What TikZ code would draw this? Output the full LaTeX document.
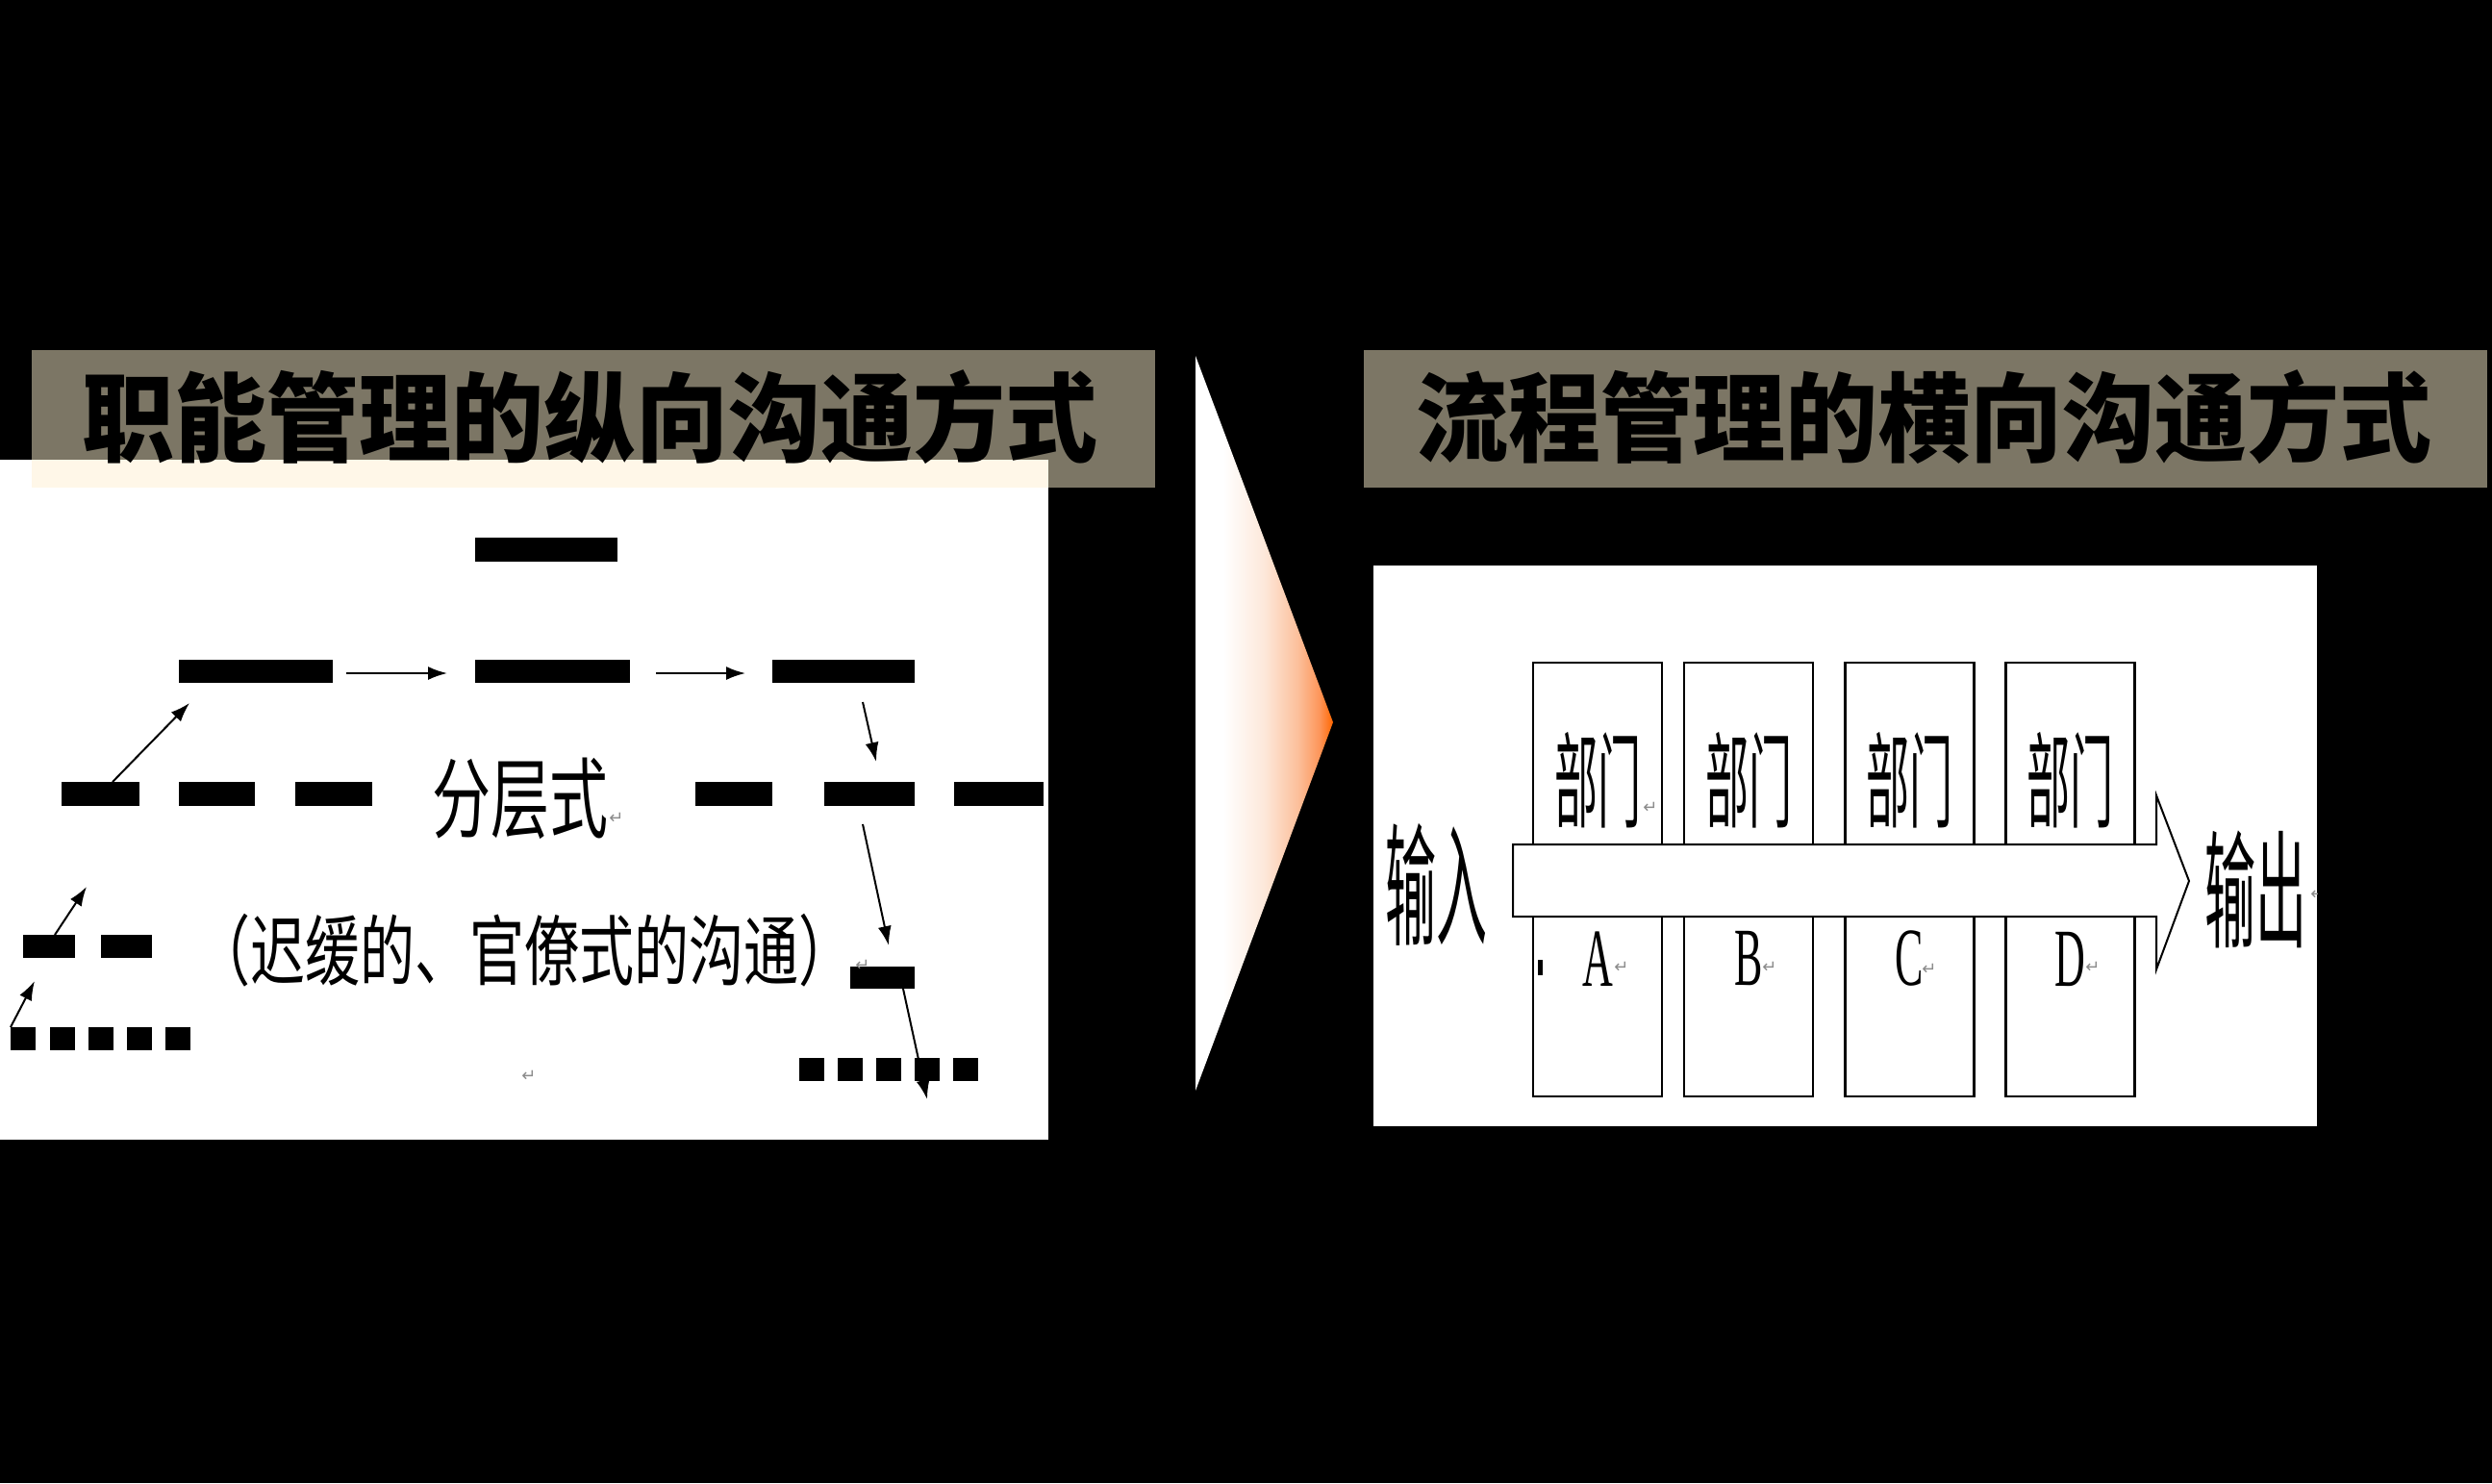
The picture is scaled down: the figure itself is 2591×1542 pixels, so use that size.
\documentclass[tikz,border=0pt]{standalone}
\usepackage{fontspec}
\usepackage{graphicx}
\usetikzlibrary{arrows.meta}
\newfontfamily\cjk{Noto Sans CJK SC}
\newfontfamily\lserif{Liberation Serif}
\newfontfamily\djv{DejaVu Sans}
\definecolor{titlegray}{RGB}{124,118,101}
\definecolor{cream}{RGB}{255,247,232}
\definecolor{shA}{RGB}{255,255,255}
\definecolor{shB}{RGB}{253,232,218}
\definecolor{shC}{RGB}{252,192,156}
\definecolor{shD}{RGB}{253,150,90}
\definecolor{shE}{RGB}{255,102,0}
\pgfdeclarehorizontalshading{chevronshade}{100bp}{color(0bp)=(shA); color(25bp)=(shA); color(35bp)=(shA); color(50bp)=(shB); color(62bp)=(shC); color(70bp)=(shD); color(75bp)=(shE); color(100bp)=(shE)}
\tikzset{
  title/.style={font=\cjk\bfseries\fontsize{96}{96}\selectfont, inner sep=0pt, text=black},
  bar/.style 2 args={fill=black, draw=none, inner sep=0pt, minimum width=#1pt, minimum height=#2pt},
  conn/.style={-{Latex[length=20pt,width=14pt]}, line width=2pt},
  dept/.style={draw=black, line width=2.5pt, fill=white, inner sep=0pt, minimum width=134pt, minimum height=451pt},
  deptlabel/.style={font=\cjk\fontsize{45}{45}\selectfont, inner sep=0pt},
  letter/.style={font=\lserif\fontsize{44}{44}\selectfont, inner sep=0pt},
  bigtext/.style={font=\cjk\fontsize{53}{53}\selectfont, inner sep=0pt},
  lefttext/.style={font=\cjk\fontsize{#1}{#1}\selectfont, inner sep=0pt},
  retmark/.style={font=\djv\fontsize{18}{18}\selectfont, text=black!45, inner sep=0pt}
}
\begin{document}
\begin{tikzpicture}[x=1pt,y=-1pt]
\useasboundingbox (0,0) rectangle (2591,1542);
\fill[black] (0,0) rectangle (2591,1542);

% ---------- left part ----------
\fill[titlegray] (33,364) rectangle (1201,507);
\fill[white] (0,478) rectangle (1090,1185);
\fill[cream] (33,478) rectangle (1090,507);
\node[title] (ltitle) at (613,434) {\scalebox{1}[1.05]{职能管理的纵向沟通方式}};

% bars
\node[bar={148}{25}] (top) at (568,571.5) {};
\node[bar={160}{24}] (r2a) at (266,698) {};
\node[bar={161}{24}] (r2b) at (574.5,698) {};
\node[bar={148}{24}] (r2c) at (877,698) {};
\node[bar={81}{25}] (r3a) at (104.5,825.5) {};
\node[bar={79}{25}] (r3b) at (225.5,825.5) {};
\node[bar={80}{25}] (r3c) at (347,825.5) {};
\node[bar={80}{25}] (r3d) at (763,825.5) {};
\node[bar={94}{25}] (r3e) at (904,825.5) {};
\node[bar={93}{25}] (r3f) at (1038.5,825.5) {};
\node[bar={54}{24}] (r4a) at (51,984) {};
\node[bar={53}{24}] (r4b) at (131.5,984) {};
\node[bar={67}{23}] (r4c) at (917.5,1016.5) {};
\foreach \i/\x in {1/24,2/64.5,3/104.5,4/145,5/185}
  \node[bar={26}{24}] (r5l\i) at (\x,1080) {};
\foreach \i/\x in {1/844,2/884,3/924,4/964,5/1004}
  \node[bar={26}{24}] (r5r\i) at (\x,1112) {};

% connectors
\coordinate (a1s) at (360,700); \coordinate (a1e) at (465,700);
\coordinate (a2s) at (682,700); \coordinate (a2e) at (775,700);
\coordinate (a3s) at (117,813); \coordinate (a3e) at (197,731);
\coordinate (a4s) at (897,730); \coordinate (a4e) at (911,792);
\coordinate (a5s) at (897,857); \coordinate (a5e) at (924,983);
\coordinate (a6s) at (939,1028); \coordinate (a6e) at (964,1143);
\coordinate (a7s) at (57,972); \coordinate (a7e) at (90,922);
\coordinate (a8s) at (11,1068); \coordinate (a8e) at (36,1020);
\foreach \a in {a1,a2,a3,a4,a5,a6,a7,a8}
  \draw[conn] (\a s) -- (\a e);

\node[lefttext=61] (fenceng) at (541,830) {\scalebox{1}[1.5]{分层式}};
\node[lefttext=57] (chihuan) at (545,988) {\scalebox{1}[1.4]{（迟缓的、官僚式的沟通）}};
\node[retmark] (rm1) at (641,851) {↵};
\node[retmark] (rm2) at (897,1004) {↵};
\node[retmark] (rm3) at (550,1119) {↵};

% ---------- chevron ----------
\shade[shading=chevronshade] (1243,370) -- (1386,751) -- (1243,1134) -- cycle;

% ---------- right part ----------
\fill[titlegray] (1418,364) rectangle (2586,507);
\node[title] (rtitle) at (2000,434) {\scalebox{1}[1.05]{流程管理的横向沟通方式}};

\fill[white] (1428,588) rectangle (2409,1171);
\node[dept] (d1) at (1661,914.5) {};
\node[dept] (d2) at (1818,914.5) {};
\node[dept] (d3) at (1985.5,914.5) {};
\node[dept] (d4) at (2152.5,914.5) {};

\draw[line width=2pt, fill=white] (1573,878) -- (2242,878) -- (2242,827) -- (2276,916)
  -- (2242,1008) -- (2242,953) -- (1573,953) -- cycle;

\foreach \i/\x in {1/1661,2/1818,3/1985.5,4/2152.5}
  \node[deptlabel] (dl\i) at (\x,811) {\scalebox{1}[2.4]{部门}};
\node[letter] (la) at (1661,997) {\scalebox{1}[1.95]{A}};
\node[letter] (lb) at (1818,997) {\scalebox{1}[1.95]{B}};
\node[letter] (lc) at (1985,997) {\scalebox{1}[1.95]{C}};
\node[letter] (ld) at (2152,997) {\scalebox{1}[1.95]{D}};
\fill[black] (1599,998) rectangle (1604,1014);
\node[retmark] (rm4) at (1716,840) {↵};
\node[retmark] (rm5) at (1686,1006) {↵};
\node[retmark] (rm6) at (1840,1006) {↵};
\node[retmark] (rm7) at (2006,1008) {↵};
\node[retmark] (rm8) at (2176,1006) {↵};

\node[bigtext] (in) at (1493,920) {\scalebox{1}[2.6]{输入}};
\node[bigtext] (out) at (2345,925) {\scalebox{1}[2.5]{输出}};
\begin{scope}
  \clip (1428,588) rectangle (2409,1171);
  \node[retmark] (rm9) at (2410,930) {↵};
\end{scope}
\end{tikzpicture}
\end{document}
